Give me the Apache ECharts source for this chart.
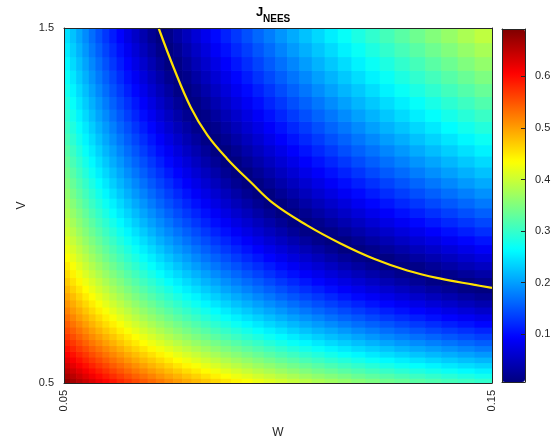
<!DOCTYPE html>
<html><head><meta charset="utf-8">
<script src="https://cdn.jsdelivr.net/npm/echarts@6/dist/echarts.min.js"></script>
<style>html,body{margin:0;padding:0;background:#fff}#c{width:557px;height:445px}</style>
</head><body><div id="c"></div>
<script>
// cell boundaries of the J_NEES grid (geometric spacing)
const wEdges=[0.05,0.051392,0.052823,0.054294,0.055806,0.05736,0.058957,0.060599,0.062287,0.064021,0.065804,0.067636,0.069519,0.071455,0.073445,0.07549,0.077592,0.079753,0.081974,0.084256,0.086603,0.089014,0.091493,0.09404,0.096659,0.099351,0.102117,0.104961,0.107883,0.110888,0.113975,0.117149,0.120411,0.123764,0.127211,0.130753,0.134394,0.138136,0.141983,0.145936,0.15];
const vEdges=[0.5,0.51392,0.52823,0.54294,0.55806,0.5736,0.58957,0.60599,0.62287,0.64021,0.65804,0.67636,0.69519,0.71455,0.73445,0.7549,0.77592,0.79753,0.81974,0.84256,0.86603,0.89014,0.91493,0.9404,0.96659,0.99351,1.02117,1.04961,1.07883,1.10888,1.13975,1.17149,1.20411,1.23764,1.27211,1.30753,1.34394,1.38136,1.41983,1.45936,1.5];
// J values: one row per V cell (bottom first), one column per W cell
const jRows=[
[0.679,0.666,0.654,0.641,0.629,0.616,0.604,0.592,0.580,0.569,0.557,0.546,0.535,0.524,0.513,0.502,0.492,0.482,0.472,0.462,0.452,0.442,0.433,0.423,0.414,0.405,0.396,0.388,0.379,0.371,0.363,0.355,0.347,0.339,0.332,0.324,0.317,0.310,0.304,0.297],
[0.665,0.652,0.639,0.626,0.614,0.601,0.589,0.577,0.565,0.553,0.541,0.530,0.519,0.507,0.496,0.486,0.475,0.465,0.454,0.444,0.434,0.424,0.415,0.405,0.396,0.387,0.378,0.369,0.360,0.352,0.344,0.335,0.327,0.320,0.312,0.304,0.297,0.290,0.283,0.276],
[0.651,0.638,0.625,0.612,0.599,0.586,0.574,0.561,0.549,0.537,0.525,0.514,0.502,0.491,0.480,0.469,0.458,0.448,0.437,0.427,0.417,0.407,0.397,0.387,0.378,0.368,0.359,0.350,0.341,0.333,0.324,0.316,0.308,0.300,0.292,0.284,0.277,0.270,0.262,0.255],
[0.637,0.623,0.610,0.597,0.584,0.571,0.559,0.546,0.534,0.522,0.510,0.498,0.486,0.475,0.464,0.452,0.441,0.431,0.420,0.410,0.399,0.389,0.379,0.369,0.360,0.350,0.341,0.332,0.323,0.314,0.305,0.297,0.289,0.280,0.272,0.265,0.257,0.249,0.242,0.235],
[0.623,0.610,0.596,0.583,0.570,0.557,0.544,0.531,0.519,0.506,0.494,0.482,0.471,0.459,0.447,0.436,0.425,0.414,0.403,0.393,0.382,0.372,0.362,0.352,0.342,0.332,0.323,0.313,0.304,0.295,0.287,0.278,0.269,0.261,0.253,0.245,0.237,0.229,0.222,0.215],
[0.609,0.596,0.582,0.569,0.555,0.542,0.529,0.516,0.504,0.491,0.479,0.467,0.455,0.443,0.431,0.420,0.409,0.398,0.387,0.376,0.365,0.355,0.344,0.334,0.324,0.314,0.305,0.295,0.286,0.277,0.268,0.259,0.250,0.242,0.234,0.225,0.217,0.210,0.202,0.195],
[0.596,0.582,0.568,0.555,0.541,0.528,0.515,0.502,0.489,0.476,0.464,0.451,0.439,0.427,0.416,0.404,0.392,0.381,0.370,0.359,0.348,0.338,0.327,0.317,0.307,0.297,0.287,0.277,0.268,0.258,0.249,0.240,0.232,0.223,0.214,0.206,0.198,0.190,0.182,0.174],
[0.583,0.569,0.555,0.541,0.527,0.514,0.500,0.487,0.474,0.461,0.449,0.436,0.424,0.412,0.400,0.388,0.377,0.365,0.354,0.343,0.332,0.321,0.310,0.300,0.289,0.279,0.269,0.260,0.250,0.240,0.231,0.222,0.213,0.204,0.195,0.187,0.179,0.171,0.163,0.155],
[0.569,0.555,0.541,0.527,0.513,0.500,0.486,0.473,0.460,0.447,0.434,0.421,0.409,0.397,0.384,0.372,0.361,0.349,0.338,0.326,0.315,0.304,0.293,0.283,0.272,0.262,0.252,0.242,0.232,0.222,0.213,0.204,0.194,0.185,0.177,0.168,0.160,0.151,0.143,0.135],
[0.556,0.542,0.528,0.514,0.500,0.486,0.472,0.459,0.445,0.432,0.419,0.406,0.394,0.381,0.369,0.357,0.345,0.333,0.322,0.310,0.299,0.288,0.277,0.266,0.255,0.245,0.234,0.224,0.214,0.205,0.195,0.185,0.176,0.167,0.158,0.149,0.140,0.132,0.124,0.116],
[0.544,0.529,0.515,0.500,0.486,0.472,0.458,0.445,0.431,0.418,0.405,0.392,0.379,0.366,0.354,0.342,0.330,0.318,0.306,0.294,0.283,0.271,0.260,0.249,0.238,0.228,0.217,0.207,0.197,0.187,0.177,0.167,0.158,0.149,0.140,0.131,0.122,0.113,0.105,0.096],
[0.531,0.516,0.501,0.487,0.473,0.459,0.445,0.431,0.417,0.404,0.390,0.377,0.364,0.352,0.339,0.326,0.314,0.302,0.290,0.278,0.267,0.255,0.244,0.233,0.222,0.211,0.200,0.190,0.180,0.169,0.159,0.150,0.140,0.130,0.121,0.112,0.103,0.094,0.086,0.077],
[0.518,0.503,0.489,0.474,0.460,0.445,0.431,0.417,0.403,0.390,0.376,0.363,0.350,0.337,0.324,0.311,0.299,0.287,0.275,0.263,0.251,0.239,0.228,0.216,0.205,0.194,0.183,0.173,0.162,0.152,0.142,0.132,0.122,0.112,0.103,0.094,0.085,0.076,0.067,0.058],
[0.506,0.491,0.476,0.461,0.447,0.432,0.418,0.404,0.390,0.376,0.362,0.349,0.336,0.322,0.309,0.297,0.284,0.272,0.259,0.247,0.235,0.223,0.212,0.200,0.189,0.178,0.167,0.156,0.145,0.135,0.125,0.115,0.105,0.095,0.085,0.076,0.066,0.057,0.048,0.039],
[0.494,0.479,0.463,0.448,0.434,0.419,0.405,0.390,0.376,0.362,0.348,0.335,0.321,0.308,0.295,0.282,0.269,0.257,0.244,0.232,0.220,0.208,0.196,0.184,0.173,0.161,0.150,0.139,0.129,0.118,0.107,0.097,0.087,0.077,0.067,0.058,0.048,0.039,0.030,0.021],
[0.482,0.466,0.451,0.436,0.421,0.406,0.392,0.377,0.363,0.349,0.335,0.321,0.307,0.294,0.281,0.267,0.254,0.242,0.229,0.217,0.204,0.192,0.180,0.168,0.157,0.145,0.134,0.123,0.112,0.101,0.090,0.080,0.070,0.060,0.050,0.040,0.030,0.021,0.011,0.002],
[0.470,0.454,0.439,0.424,0.409,0.394,0.379,0.364,0.350,0.335,0.321,0.307,0.294,0.280,0.266,0.253,0.240,0.227,0.214,0.202,0.189,0.177,0.165,0.153,0.141,0.129,0.118,0.107,0.095,0.084,0.074,0.063,0.053,0.042,0.032,0.022,0.012,0.003,0.007,0.016],
[0.458,0.443,0.427,0.411,0.396,0.381,0.366,0.351,0.337,0.322,0.308,0.294,0.280,0.266,0.252,0.239,0.226,0.213,0.200,0.187,0.174,0.162,0.149,0.137,0.125,0.113,0.102,0.090,0.079,0.068,0.057,0.046,0.036,0.025,0.015,0.005,0.005,0.015,0.025,0.034],
[0.447,0.431,0.415,0.399,0.384,0.369,0.354,0.339,0.324,0.309,0.295,0.280,0.266,0.252,0.239,0.225,0.211,0.198,0.185,0.172,0.159,0.147,0.134,0.122,0.110,0.098,0.086,0.074,0.063,0.052,0.040,0.029,0.019,0.008,0.003,0.013,0.023,0.033,0.043,0.052],
[0.435,0.419,0.403,0.388,0.372,0.357,0.341,0.326,0.311,0.296,0.282,0.267,0.253,0.239,0.225,0.211,0.198,0.184,0.171,0.158,0.145,0.132,0.119,0.107,0.094,0.082,0.070,0.059,0.047,0.035,0.024,0.013,0.002,0.009,0.019,0.030,0.040,0.050,0.060,0.070],
[0.424,0.408,0.392,0.376,0.360,0.345,0.329,0.314,0.299,0.284,0.269,0.254,0.240,0.226,0.211,0.197,0.184,0.170,0.157,0.143,0.130,0.117,0.104,0.092,0.079,0.067,0.055,0.043,0.031,0.019,0.008,0.003,0.015,0.026,0.036,0.047,0.057,0.068,0.078,0.088],
[0.413,0.397,0.381,0.364,0.349,0.333,0.317,0.302,0.286,0.271,0.256,0.242,0.227,0.212,0.198,0.184,0.170,0.156,0.143,0.129,0.116,0.103,0.090,0.077,0.064,0.052,0.040,0.027,0.015,0.004,0.008,0.020,0.031,0.042,0.053,0.064,0.074,0.085,0.095,0.105],
[0.402,0.386,0.369,0.353,0.337,0.321,0.305,0.290,0.274,0.259,0.244,0.229,0.214,0.199,0.185,0.171,0.157,0.143,0.129,0.115,0.102,0.088,0.075,0.062,0.049,0.037,0.024,0.012,0.000,0.012,0.024,0.036,0.047,0.058,0.069,0.080,0.091,0.102,0.112,0.123],
[0.392,0.375,0.358,0.342,0.326,0.309,0.294,0.278,0.262,0.247,0.231,0.216,0.201,0.187,0.172,0.157,0.143,0.129,0.115,0.101,0.088,0.074,0.061,0.048,0.035,0.022,0.009,0.003,0.016,0.028,0.040,0.051,0.063,0.075,0.086,0.097,0.108,0.119,0.129,0.140],
[0.381,0.364,0.348,0.331,0.314,0.298,0.282,0.266,0.250,0.235,0.219,0.204,0.189,0.174,0.159,0.144,0.130,0.116,0.102,0.088,0.074,0.060,0.047,0.033,0.020,0.007,0.006,0.018,0.031,0.043,0.055,0.067,0.079,0.090,0.102,0.113,0.124,0.135,0.146,0.157],
[0.371,0.354,0.337,0.320,0.303,0.287,0.271,0.255,0.239,0.223,0.207,0.192,0.176,0.161,0.146,0.132,0.117,0.103,0.088,0.074,0.060,0.046,0.033,0.019,0.006,0.007,0.020,0.033,0.046,0.058,0.070,0.083,0.095,0.106,0.118,0.129,0.141,0.152,0.163,0.174],
[0.361,0.343,0.326,0.309,0.293,0.276,0.259,0.243,0.227,0.211,0.195,0.180,0.164,0.149,0.134,0.119,0.104,0.089,0.075,0.061,0.047,0.033,0.019,0.005,0.008,0.022,0.035,0.048,0.061,0.073,0.086,0.098,0.110,0.122,0.134,0.145,0.157,0.168,0.179,0.190],
[0.351,0.333,0.316,0.299,0.282,0.265,0.249,0.232,0.216,0.200,0.184,0.168,0.152,0.137,0.122,0.106,0.091,0.077,0.062,0.048,0.033,0.019,0.005,0.009,0.022,0.036,0.049,0.062,0.075,0.088,0.101,0.113,0.125,0.137,0.149,0.161,0.173,0.184,0.196,0.207],
[0.341,0.323,0.306,0.288,0.271,0.254,0.238,0.221,0.205,0.188,0.172,0.156,0.140,0.125,0.109,0.094,0.079,0.064,0.049,0.035,0.020,0.006,0.008,0.022,0.036,0.050,0.063,0.077,0.090,0.103,0.115,0.128,0.141,0.153,0.165,0.177,0.189,0.200,0.212,0.223],
[0.331,0.313,0.296,0.278,0.261,0.244,0.227,0.210,0.194,0.177,0.161,0.145,0.129,0.113,0.097,0.082,0.067,0.051,0.036,0.022,0.007,0.007,0.022,0.036,0.050,0.064,0.077,0.091,0.104,0.117,0.130,0.143,0.156,0.168,0.180,0.192,0.204,0.216,0.228,0.239],
[0.322,0.304,0.286,0.268,0.251,0.234,0.216,0.200,0.183,0.166,0.150,0.133,0.117,0.101,0.086,0.070,0.054,0.039,0.024,0.009,0.006,0.020,0.035,0.049,0.063,0.077,0.091,0.105,0.118,0.131,0.145,0.158,0.170,0.183,0.195,0.208,0.220,0.232,0.244,0.255],
[0.312,0.294,0.276,0.258,0.241,0.223,0.206,0.189,0.172,0.155,0.139,0.122,0.106,0.090,0.074,0.058,0.042,0.027,0.012,0.004,0.019,0.033,0.048,0.062,0.077,0.091,0.105,0.119,0.132,0.146,0.159,0.172,0.185,0.198,0.210,0.223,0.235,0.247,0.259,0.271],
[0.303,0.285,0.267,0.249,0.231,0.213,0.196,0.179,0.161,0.145,0.128,0.111,0.095,0.078,0.062,0.046,0.031,0.015,0.001,0.016,0.031,0.046,0.061,0.075,0.090,0.104,0.118,0.132,0.146,0.160,0.173,0.186,0.200,0.213,0.225,0.238,0.250,0.263,0.275,0.287],
[0.294,0.276,0.257,0.239,0.221,0.203,0.186,0.168,0.151,0.134,0.117,0.100,0.084,0.067,0.051,0.035,0.019,0.003,0.013,0.028,0.043,0.058,0.073,0.088,0.103,0.117,0.132,0.146,0.160,0.173,0.187,0.201,0.214,0.227,0.240,0.253,0.265,0.278,0.290,0.302],
[0.285,0.267,0.248,0.230,0.212,0.194,0.176,0.158,0.141,0.124,0.107,0.090,0.073,0.056,0.040,0.023,0.007,0.009,0.024,0.040,0.056,0.071,0.086,0.101,0.116,0.130,0.145,0.159,0.173,0.187,0.201,0.215,0.228,0.241,0.254,0.267,0.280,0.293,0.305,0.318],
[0.276,0.258,0.239,0.221,0.202,0.184,0.166,0.148,0.131,0.113,0.096,0.079,0.062,0.045,0.029,0.012,0.004,0.020,0.036,0.052,0.068,0.083,0.098,0.113,0.128,0.143,0.158,0.172,0.187,0.201,0.215,0.228,0.242,0.256,0.269,0.282,0.295,0.308,0.320,0.333],
[0.268,0.249,0.230,0.212,0.193,0.175,0.157,0.139,0.121,0.103,0.086,0.069,0.052,0.035,0.018,0.001,0.015,0.032,0.048,0.064,0.079,0.095,0.110,0.126,0.141,0.156,0.171,0.185,0.200,0.214,0.228,0.242,0.256,0.269,0.283,0.296,0.309,0.322,0.335,0.348],
[0.260,0.240,0.222,0.203,0.184,0.166,0.147,0.129,0.111,0.094,0.076,0.059,0.041,0.024,0.007,0.010,0.026,0.043,0.059,0.075,0.091,0.107,0.122,0.138,0.153,0.168,0.183,0.198,0.213,0.227,0.241,0.256,0.270,0.283,0.297,0.310,0.324,0.337,0.350,0.363],
[0.251,0.232,0.213,0.194,0.175,0.157,0.138,0.120,0.102,0.084,0.066,0.048,0.031,0.014,0.003,0.020,0.037,0.054,0.070,0.087,0.103,0.119,0.134,0.150,0.165,0.181,0.196,0.211,0.226,0.240,0.255,0.269,0.283,0.297,0.311,0.324,0.338,0.351,0.364,0.377],
[0.243,0.224,0.205,0.186,0.167,0.148,0.129,0.111,0.093,0.074,0.056,0.039,0.021,0.004,0.014,0.031,0.048,0.065,0.081,0.098,0.114,0.130,0.146,0.162,0.177,0.193,0.208,0.223,0.238,0.253,0.268,0.282,0.296,0.310,0.324,0.338,0.352,0.365,0.379,0.392]
];
// minimum (yellow) curve
const wCurve=[0.0721,0.0757,0.0796,0.0835,0.0881,0.0936,0.0990,0.1068,0.1146,0.1224,0.1302,0.1380,0.1457,0.1500];
const vCurve=[1.500,1.386,1.277,1.198,1.132,1.066,1.005,0.944,0.893,0.850,0.817,0.794,0.777,0.768];
const xTicks=[0.05,0.15];
const yTicks=[0.5,1.5];
const cbTicks=[0.1,0.2,0.3,0.4,0.5,0.6];
const cMin=0.007, cMax=0.692;

const cells=[];
jRows.forEach((row,j)=>row.forEach((v,i)=>cells.push([i,j,v])));
const curve=wCurve.map((w,k)=>[w,vCurve[k]]);

const FONT='"Liberation Sans", Arial, Helvetica, sans-serif';
const AX='#262626';
const lineOnly=(extra)=>Object.assign({type:'value',min:0,max:1,z:10,
  axisLine:{show:true,onZero:false,lineStyle:{color:AX,width:1}},
  axisTick:{show:false},axisLabel:{show:false},splitLine:{show:false}},extra);

const chart=echarts.init(document.getElementById('c'),null,{renderer:'canvas'});
chart.setOption({
  backgroundColor:'#fff',
  animation:false,
  title:[
    {text:'J',left:256,top:6,padding:0,textStyle:{fontFamily:FONT,fontSize:13,fontWeight:'bold',color:'#000'}},
    {text:'NEES',left:263,top:14,padding:0,textStyle:{fontFamily:FONT,fontSize:10,fontWeight:'bold',color:'#000'}}
  ],
  grid:[
    {left:64,top:28,width:428,height:355,containLabel:false},
    {left:502,top:29,width:23,height:353,containLabel:false}
  ],
  xAxis:[
    {gridIndex:0,type:'value',min:0.05,max:0.15,position:'bottom',z:10,
      name:'W',nameLocation:'middle',nameGap:44,
      nameTextStyle:{fontFamily:FONT,fontSize:12,color:AX},
      axisLine:{show:true,onZero:false,lineStyle:{color:AX}},
      axisTick:{show:false},splitLine:{show:false},
      axisLabel:{customValues:xTicks,rotate:90,margin:7,fontFamily:FONT,fontSize:11,color:AX,
        formatter:v=>v.toFixed(2)}},
    Object.assign(lineOnly({gridIndex:0,position:'top'}),{min:0.05,max:0.15}),
    lineOnly({gridIndex:1,position:'bottom'}),
    lineOnly({gridIndex:1,position:'top'})
  ],
  yAxis:[
    {gridIndex:0,type:'value',min:0.5,max:1.5,position:'left',z:10,
      name:'V',nameLocation:'middle',nameGap:36,nameRotate:90,
      nameTextStyle:{fontFamily:FONT,fontSize:12,color:AX},
      axisLine:{show:true,onZero:false,lineStyle:{color:AX}},
      axisTick:{show:false},splitLine:{show:false},
      axisLabel:{customValues:yTicks,margin:10,fontFamily:FONT,fontSize:11,color:AX,
        formatter:v=>v.toFixed(1)}},
    Object.assign(lineOnly({gridIndex:0,position:'right'}),{min:0.5,max:1.5}),
    {gridIndex:1,type:'value',min:cMin,max:cMax,position:'right',z:10,
      axisLine:{show:true,onZero:false,lineStyle:{color:AX}},
      axisTick:{show:true,inside:true,length:4,customValues:cbTicks,lineStyle:{color:AX}},
      splitLine:{show:false},
      axisLabel:{customValues:cbTicks,margin:10,fontFamily:FONT,fontSize:11,color:AX,
        formatter:v=>v.toFixed(1)}},
    lineOnly({gridIndex:1,position:'left'})
  ],
  visualMap:{
    type:'continuous',seriesIndex:0,dimension:2,min:cMin,max:cMax,calculable:false,
    orient:'vertical',left:502,top:29,itemWidth:23,itemHeight:353,padding:0,
    text:null,showLabel:false,hoverLink:false,
    inRange:{color:['#00007f','#0000ff','#007fff','#00ffff','#7fff7f','#ffff00','#ff7f00','#ff0000','#7f0000']}
  },
  series:[
    {type:'custom',xAxisIndex:0,yAxisIndex:0,data:cells,z:2,clip:true,silent:true,
      dimensions:['i','j','J'],encode:{tooltip:2},
      renderItem:function(params,api){
        const i=api.value(0), j=api.value(1);
        const p0=api.coord([wEdges[i],vEdges[j+1]]);
        const p1=api.coord([wEdges[i+1],vEdges[j]]);
        return {type:'rect',
          shape:{x:p0[0],y:p0[1],width:p1[0]-p0[0]+0.7,height:p1[1]-p0[1]+0.7},
          style:{fill:api.visual('color')}};
      }},
    {type:'line',xAxisIndex:0,yAxisIndex:0,data:curve,z:3,smooth:0.4,
      showSymbol:false,symbol:'none',silent:true,
      lineStyle:{color:'#ffe200',width:2.2}}
  ]
});
</script></body></html>
